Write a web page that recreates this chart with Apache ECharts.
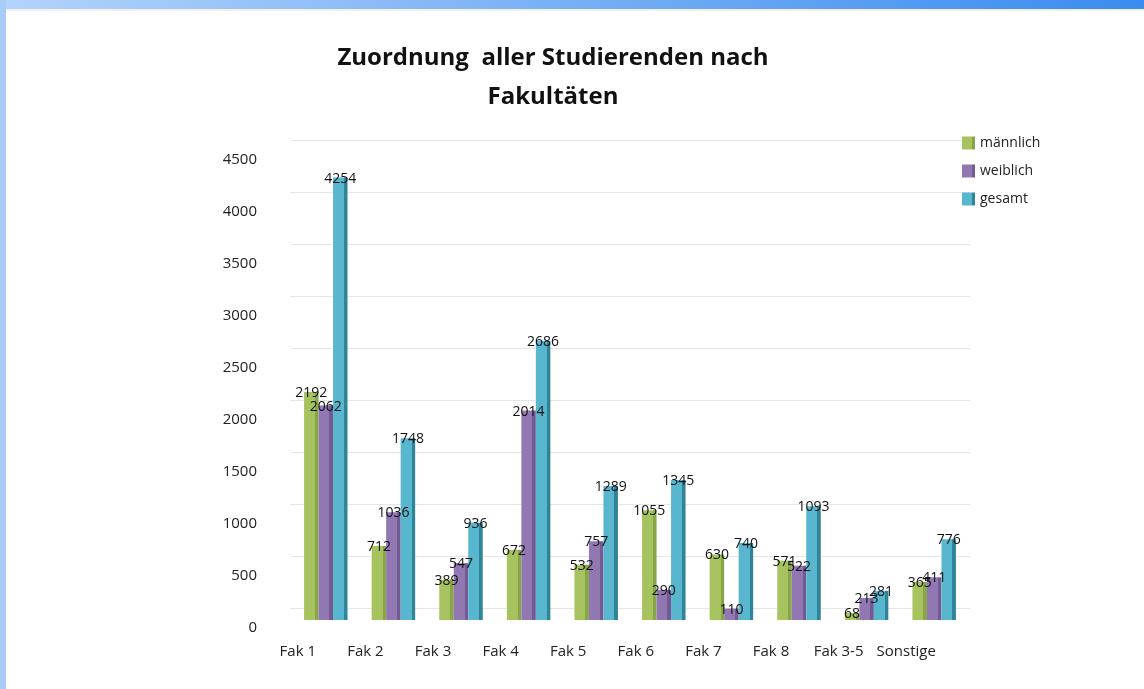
<!DOCTYPE html>
<html><head><meta charset="utf-8">
<script src="https://cdn.jsdelivr.net/npm/echarts@6/dist/echarts.min.js"></script>
<style>html,body{margin:0;padding:0;background:#fff}#c{width:1144px;height:689px}</style>
</head><body><div id="c"></div>
<script>
const categories = ['Fak 1','Fak 2','Fak 3','Fak 4','Fak 5','Fak 6','Fak 7','Fak 8','Fak 3-5','Sonstige'];
const maennlich = [2192, 712, 389, 672, 532, 1055, 630, 571, 68, 365];
const weiblich = [2062, 1036, 547, 2014, 757, 290, 110, 522, 213, 411];
const gesamt = [4254, 1748, 936, 2686, 1289, 1345, 740, 1093, 281, 776];
const yTicks = [0, 500, 1000, 1500, 2000, 2500, 3000, 3500, 4000, 4500];

function face(main, dark) {
  return {type:'linear', x:0, y:0, x2:1, y2:0, colorStops:[
    {offset:0, color:main},{offset:0.75, color:main},{offset:0.75, color:dark},{offset:1, color:dark}]};
}
const lbl = {show:true, position:'top', distance:-8, color:'#111', fontSize:14, fontFamily:'Open Sans'};

const chart = echarts.init(document.getElementById('c'), null, {renderer:'canvas'});
chart.setOption({
  backgroundColor:'#fff',
  animation:false,
  graphic:[
    {type:'rect', shape:{x:0,y:0,width:1144,height:9}, style:{fill:{type:'linear',x:0,y:0,x2:1,y2:0,colorStops:[{offset:0,color:'#b3d3fb'},{offset:1,color:'#3a8cf0'}]}}},
    {type:'rect', shape:{x:0,y:0,width:6,height:689}, style:{fill:'#a8ccf7'}},
    {type:'line', shape:{x1:6,y1:10,x2:1144,y2:10}, style:{stroke:'#e4e4e4', lineWidth:1}}
  ],
  title:{text:'Zuordnung  aller Studierenden nach\nFakultäten', left:548, textAlign:'center', top:34,
    textStyle:{fontSize:24, fontWeight:'bold', fontFamily:'Open Sans', color:'#111', lineHeight:39}},
  legend:{orient:'vertical', left:957, top:131, itemWidth:13, itemHeight:13, itemGap:14, icon:'rect',
    textStyle:{fontSize:14, fontFamily:'Open Sans', color:'#222'}, data:['männlich','weiblich','gesamt']},
  grid:[
    {left:292, right:176, top:152, bottom:69},
    {left:290, right:174, top:140, bottom:81},
    {left:292, right:176, top:160, bottom:61}
  ],
  xAxis:[
    {type:'category', gridIndex:0, data:categories, axisLine:{show:false}, axisTick:{show:false},
      axisLabel:{interval:0, hideOverlap:false, fontSize:15, fontFamily:'Open Sans', color:'#222', margin:24, padding:[0,56,0,0]}},
    {type:'category', gridIndex:1, data:categories, show:false},
    {type:'category', gridIndex:2, data:categories, show:false}
  ],
  yAxis:[
    {type:'value', gridIndex:0, min:0, max:4500, interval:500, show:false},
    {type:'value', gridIndex:1, min:0, max:4500, interval:500, axisLabel:{show:false}, axisLine:{show:false}, axisTick:{show:false},
      splitLine:{lineStyle:{color:'#e6e6e6', width:1}}},
    {type:'value', gridIndex:2, min:0, max:4500, interval:500, splitLine:{show:false}, axisLine:{show:false}, axisTick:{show:false},
      axisLabel:{fontSize:15, fontFamily:'Open Sans', color:'#222', margin:35,
        formatter:function(v){return yTicks.indexOf(v) >= 0 ? String(v) : '';}}}
  ],
  series:[
    {name:'männlich', type:'bar', xAxisIndex:0, yAxisIndex:0, data:maennlich, barWidth:14.5, barGap:'0%',
      itemStyle:{color:face('#a6c35f','#88a548')}, label:lbl},
    {name:'weiblich', type:'bar', xAxisIndex:0, yAxisIndex:0, data:weiblich, barWidth:14.5, barGap:'0%',
      itemStyle:{color:face('#9278b2','#745a93')}, label:lbl},
    {name:'gesamt', type:'bar', xAxisIndex:0, yAxisIndex:0, data:gesamt, barWidth:14.5, barGap:'0%',
      itemStyle:{color:face('#58b7cf','#2f8497')}, label:lbl}
  ]
});
</script></body></html>
